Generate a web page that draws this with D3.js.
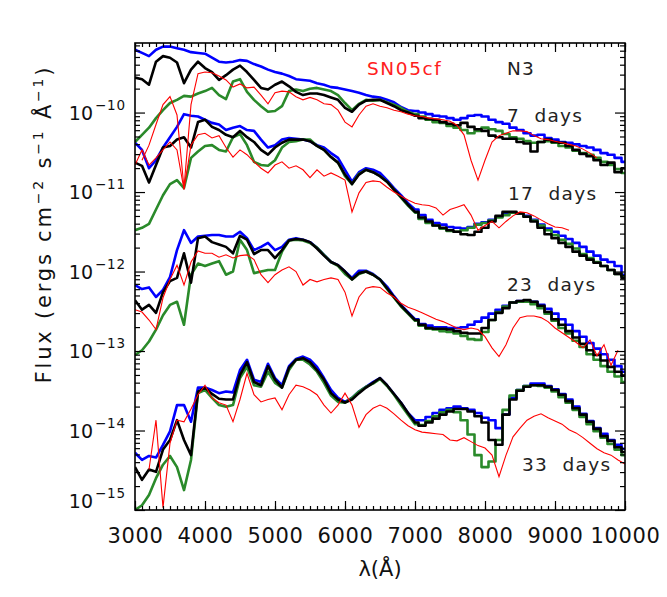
<!DOCTYPE html>
<html><head><meta charset="utf-8">
<script src="https://cdn.jsdelivr.net/npm/d3@7"></script>
<style>
body{margin:0;background:#fff}
svg{display:block;font-family:"DejaVu Sans",sans-serif}
</style></head><body>
<svg id="chart" width="667" height="597"></svg>
<script>
// wavelength grid (Angstrom)
const wave = [3000,3100,3200,3300,3400,3500,3600,3700,3800,3900,
  4000,4100,4200,4300,4400,4500,4600,4700,4800,4900,
  5000,5100,5200,5300,5400,5500,5600,5700,5800,5900,
  6000,6100,6200,6300,6400,6500,6600,6700,6800,6900,
  7000,7100,7200,7300,7400,7500,7600,7700,7800,7900,
  8000,8100,8200,8300,8400,8500,8600,8700,8800,8900,
  9000,9100,9200,9300,9400,9500,9600,9700,9800,9900,10000];

// log10 flux (ergs cm^-2 s^-1 A^-1)
// ---- 7 days ----
const blue7 = [-9.21,-9.25,-9.29,-9.21,-9.17,-9.17,-9.19,-9.21,-9.24,-9.25,
  -9.26,-9.31,-9.36,-9.37,-9.36,-9.34,-9.35,-9.39,-9.42,-9.46,
  -9.49,-9.51,-9.54,-9.58,-9.59,-9.60,-9.63,-9.65,-9.68,-9.69,
  -9.71,-9.73,-9.75,-9.78,-9.80,-9.81,-9.84,-9.87,-9.93,-9.97,
  -9.98,-10.00,-10.02,-10.04,-10.05,-10.07,-10.09,-10.07,-10.04,-10.03,
  -10.05,-10.09,-10.12,-10.14,-10.19,-10.22,-10.26,-10.29,-10.28,-10.32,
  -10.34,-10.37,-10.38,-10.40,-10.42,-10.44,-10.47,-10.51,-10.53,-10.57,-10.62];
const black7 = [-9.56,-9.58,-9.65,-9.36,-9.29,-9.31,-9.37,-9.63,-9.46,-9.36,
  -9.44,-9.49,-9.59,-9.53,-9.46,-9.41,-9.49,-9.59,-9.69,-9.71,
  -9.65,-9.61,-9.67,-9.74,-9.78,-9.76,-9.76,-9.78,-9.81,-9.84,
  -9.94,-9.99,-9.90,-9.85,-9.84,-9.84,-9.88,-9.92,-9.97,-10.00,
  -10.04,-10.07,-10.08,-10.09,-10.12,-10.14,-10.16,-10.13,-10.18,-10.21,
  -10.23,-10.29,-10.31,-10.33,-10.33,-10.37,-10.39,-10.49,-10.37,-10.34,
  -10.37,-10.38,-10.42,-10.47,-10.52,-10.55,-10.60,-10.66,-10.63,-10.75,-10.70];
const green7 = [-10.37,-10.28,-10.19,-10.07,-9.97,-9.88,-9.84,-9.79,-9.80,-9.76,
  -9.73,-9.69,-9.78,-9.83,-9.61,-9.58,-9.74,-9.84,-9.92,-9.99,
  -9.98,-9.92,-9.73,-9.71,-9.73,-9.70,-9.69,-9.71,-9.73,-9.78,
  -9.88,-9.97,-9.89,-9.84,-9.85,-9.84,-9.87,-9.90,-9.94,-9.99,
  -10.02,-10.05,-10.09,-10.12,-10.13,-10.17,-10.19,-10.22,-10.26,-10.23,
  -10.19,-10.21,-10.23,-10.27,-10.31,-10.33,-10.36,-10.38,-10.37,-10.36,
  -10.38,-10.42,-10.44,-10.48,-10.51,-10.53,-10.57,-10.62,-10.66,-10.71,-10.76];
const red7 = [null,-10.60,-10.41,-10.15,-9.90,-9.80,-10.03,-10.95,-9.90,-9.51,
  -9.49,-9.50,-9.54,-9.59,-9.68,-9.64,-9.69,-9.68,-9.78,-9.89,
  -9.75,-9.73,-9.74,-9.80,-9.84,-9.81,-9.84,-9.89,-9.90,-9.97,
  -10.12,-10.18,-10.03,-9.92,-9.89,-9.92,-9.94,-9.97,-9.99,-10.02,
  -10.04,-10.05,-10.07,-10.08,-10.09,-10.11,-10.16,-10.28,-10.60,-10.85,
  -10.60,-10.37,-10.29,-10.26,-10.23,-10.23,-10.24,-10.29,-10.33,-10.34,
  -10.36,-10.38,-10.40,-10.42,-10.46,-10.51,-10.57,null,null,null,null];
// ---- 17 days ----
const blue17 = [-10.38,-10.47,-10.70,-10.60,-10.44,-10.31,-10.18,-10.02,-10.04,-10.05,
  -10.09,-10.13,-10.15,-10.22,-10.19,-10.17,-10.22,-10.23,-10.34,-10.44,
  -10.41,-10.34,-10.32,-10.33,-10.34,-10.36,-10.41,-10.44,-10.51,-10.57,
  -10.72,-10.87,-10.75,-10.70,-10.72,-10.76,-10.85,-10.95,-11.04,-11.14,
  -11.22,-11.29,-11.35,-11.39,-11.41,-11.44,-11.45,-11.46,-11.44,-11.40,
  -11.38,-11.35,-11.31,-11.27,-11.26,-11.27,-11.30,-11.35,-11.41,-11.46,
  -11.50,-11.55,-11.59,-11.64,-11.69,-11.75,-11.80,-11.85,-11.88,-11.93,-12.04];
const black17 = [-10.63,-10.67,-10.88,-10.66,-10.44,-10.42,-10.34,-10.31,-10.44,-10.12,
  -10.09,-10.18,-10.22,-10.28,-10.31,-10.23,-10.31,-10.37,-10.47,-10.53,
  -10.44,-10.38,-10.34,-10.34,-10.34,-10.36,-10.42,-10.47,-10.56,-10.63,
  -10.78,-10.90,-10.78,-10.72,-10.75,-10.80,-10.87,-10.97,-11.06,-11.16,
  -11.25,-11.32,-11.37,-11.42,-11.45,-11.48,-11.50,-11.53,-11.54,-11.50,
  -11.45,-11.37,-11.30,-11.25,-11.25,-11.27,-11.31,-11.37,-11.45,-11.53,
  -11.58,-11.64,-11.69,-11.75,-11.80,-11.85,-11.89,-11.93,-11.98,-12.03,-12.08];
const green17 = [-11.48,-11.45,-11.40,-11.22,-11.04,-10.90,-10.85,-10.95,-10.57,-10.49,
  -10.42,-10.41,-10.47,-10.49,-10.31,-10.27,-10.41,-10.62,-10.66,-10.67,
  -10.60,-10.44,-10.37,-10.36,-10.34,-10.34,-10.42,-10.47,-10.56,-10.63,
  -10.80,-10.90,-10.77,-10.72,-10.75,-10.80,-10.87,-10.97,-11.07,-11.17,
  -11.26,-11.34,-11.39,-11.42,-11.46,-11.49,-11.50,-11.48,-11.45,-11.41,
  -11.39,-11.36,-11.32,-11.29,-11.26,-11.27,-11.31,-11.36,-11.42,-11.48,
  -11.54,-11.60,-11.65,-11.71,-11.78,-11.83,-11.88,-11.93,-11.98,-12.03,-12.06];
const red17 = [-10.66,-10.47,-10.66,-10.57,-10.47,-10.37,-10.47,-10.97,-10.41,-10.28,
  -10.26,-10.32,-10.29,-10.44,-10.56,-10.47,-10.53,-10.62,-10.70,-10.76,
  -10.66,-10.62,-10.70,-10.67,-10.72,-10.82,-10.72,-10.80,-10.76,-10.80,
  -10.85,-11.25,-11.01,-10.88,-10.86,-10.87,-10.94,-11.00,-11.05,-11.10,
  -11.14,-11.16,-11.17,-11.20,-11.29,-11.22,-11.19,-11.16,-11.29,-11.48,
  -11.42,-11.37,-11.45,-11.37,-11.30,-11.25,-11.26,-11.30,-11.35,-11.40,
  -11.44,-11.45,-11.48,null,null,null,null,null,null,null,null];
// ---- 23 days ----
const blue23 = [-12.17,-12.22,-12.20,-12.32,-12.23,-12.07,-11.73,-11.48,-11.64,-11.56,
  -11.55,-11.54,-11.54,-11.56,-11.56,-11.50,-11.58,-11.73,-11.69,-11.64,
  -11.73,-11.69,-11.60,-11.58,-11.60,-11.63,-11.70,-11.79,-11.88,-11.92,
  -12.00,-12.08,-11.99,-11.99,-12.03,-12.10,-12.19,-12.31,-12.42,-12.51,
  -12.60,-12.66,-12.68,-12.70,-12.70,-12.71,-12.71,-12.70,-12.67,-12.63,
  -12.58,-12.53,-12.48,-12.43,-12.39,-12.37,-12.37,-12.38,-12.42,-12.47,
  -12.53,-12.60,-12.67,-12.75,-12.82,-12.90,-12.97,-13.04,-13.11,-13.19,-13.26];
const black23 = [-12.36,-12.48,-12.42,-12.52,-12.26,-12.12,-12.08,-11.77,-12.14,-11.58,
  -11.56,-11.63,-11.66,-11.69,-11.77,-11.55,-11.60,-11.78,-11.73,-11.73,
  -11.83,-11.73,-11.61,-11.59,-11.60,-11.63,-11.71,-11.80,-11.88,-11.92,
  -12.00,-12.10,-12.02,-12.00,-12.04,-12.10,-12.21,-12.32,-12.43,-12.52,
  -12.61,-12.67,-12.71,-12.72,-12.72,-12.73,-12.75,-12.77,-12.78,-12.78,
  -12.71,-12.61,-12.52,-12.46,-12.39,-12.37,-12.36,-12.38,-12.43,-12.51,
  -12.60,-12.67,-12.75,-12.83,-12.91,-12.99,-13.05,-13.12,-13.20,-13.26,-13.31];
const green23 = [-13.05,-12.99,-12.88,-12.73,-12.55,-12.42,-12.38,-12.67,-12.04,-11.90,
  -11.93,-11.90,-11.87,-12.04,-12.00,-11.60,-11.73,-12.02,-12.00,-11.98,
  -11.98,-11.75,-11.61,-11.60,-11.61,-11.64,-11.70,-11.79,-11.88,-11.93,
  -12.03,-12.10,-12.03,-12.00,-12.04,-12.10,-12.22,-12.33,-12.44,-12.53,
  -12.62,-12.68,-12.72,-12.73,-12.75,-12.76,-12.78,-12.81,-12.85,-12.86,
  -12.76,-12.61,-12.51,-12.44,-12.39,-12.38,-12.38,-12.41,-12.46,-12.53,
  -12.62,-12.71,-12.78,-12.87,-12.95,-13.04,-13.11,-13.19,-13.26,-13.32,-13.39];
const red23 = [-12.48,-12.51,-12.61,-12.73,-12.33,-12.10,-11.92,-12.17,-11.88,-11.74,
  -11.77,-11.77,-11.82,-11.79,-11.83,-11.80,-11.79,-11.85,-12.04,-12.14,
  -12.04,-11.98,-11.94,-12.00,-12.17,-12.10,-12.13,-12.10,-12.08,-12.10,
  -12.26,-12.56,-12.32,-12.21,-12.19,-12.20,-12.27,-12.32,-12.40,-12.45,
  -12.48,-12.52,-12.56,-12.60,-12.63,-12.67,-12.71,-12.73,-12.71,-12.73,
  -12.82,-12.96,-13.07,-12.92,-12.71,-12.58,-12.56,-12.56,-12.58,-12.63,
  -12.71,-12.77,-12.83,-12.89,-12.96,-12.86,-13.06,-12.92,-13.18,-12.99,null];
// ---- 33 days ----
const blue33 = [-14.28,-14.37,-14.32,-14.34,-14.18,-14.01,-13.68,-13.68,-13.89,-13.46,
  -13.46,-13.49,-13.53,-13.51,-13.52,-13.24,-13.11,-13.36,-13.39,-13.16,
  -13.34,-13.43,-13.19,-13.10,-13.07,-13.11,-13.20,-13.34,-13.49,-13.59,
  -13.64,-13.59,-13.51,-13.45,-13.39,-13.34,-13.43,-13.54,-13.65,-13.78,
  -13.87,-13.87,-13.83,-13.78,-13.74,-13.72,-13.70,-13.72,-13.74,-13.78,
  -13.84,-13.87,-13.97,-13.80,-13.59,-13.49,-13.44,-13.41,-13.41,-13.44,
  -13.48,-13.54,-13.61,-13.70,-13.79,-13.88,-13.97,-14.04,-14.12,-14.18,-14.23];
const black33 = [-14.46,-14.62,-14.49,-14.52,-14.24,-14.12,-13.87,-14.12,-14.31,-13.51,
  -13.46,-13.54,-13.60,-13.61,-13.61,-13.30,-13.14,-13.39,-13.43,-13.19,
  -13.36,-13.46,-13.21,-13.11,-13.09,-13.14,-13.24,-13.36,-13.53,-13.61,
  -13.65,-13.61,-13.53,-13.46,-13.40,-13.34,-13.43,-13.54,-13.65,-13.78,
  -13.90,-13.94,-13.90,-13.85,-13.80,-13.76,-13.73,-13.73,-13.76,-13.82,
  -13.90,-14.12,-14.18,-13.80,-13.61,-13.50,-13.45,-13.43,-13.43,-13.45,
  -13.49,-13.55,-13.63,-13.72,-13.80,-13.89,-13.98,-14.07,-14.13,-14.21,-14.27];
const green33 = [-15.00,-14.94,-14.81,-14.60,-14.43,-14.32,-14.46,-14.75,-14.37,-13.53,
  -13.49,-13.59,-13.68,-13.70,-13.68,-13.34,-13.20,-13.43,-13.45,-13.26,
  -13.40,-13.46,-13.24,-13.11,-13.11,-13.17,-13.26,-13.40,-13.56,-13.64,
  -13.65,-13.59,-13.51,-13.45,-13.41,-13.35,-13.44,-13.55,-13.68,-13.80,
  -13.92,-13.93,-13.88,-13.82,-13.77,-13.74,-13.77,-13.87,-14.05,-14.31,
  -14.46,-14.39,-14.12,-13.74,-13.56,-13.49,-13.44,-13.43,-13.44,-13.46,
  -13.51,-13.58,-13.65,-13.74,-13.83,-13.92,-14.01,-14.09,-14.17,-14.24,-14.31];
const red33 = [null,null,-14.49,-13.87,-14.97,-14.16,-13.87,-13.89,-13.73,-13.55,
  -13.43,-13.59,-13.65,-13.68,-13.89,-13.61,-13.28,-13.55,-13.64,-13.61,
  -13.59,-13.74,-13.55,-13.43,-13.45,-13.49,-13.55,-13.68,-13.78,-13.68,
  -13.53,-13.68,-13.96,-13.80,-13.72,-13.68,-13.72,-13.79,-13.87,-13.94,
  -13.99,-14.02,-14.03,-14.04,-14.05,-14.12,-14.13,-14.09,-14.14,-14.19,
  -14.22,-14.31,-14.58,-14.31,-14.08,-13.97,-13.87,-13.82,-13.79,-13.84,
  -13.88,-13.92,-13.99,-14.03,-14.09,-14.16,-14.23,-14.28,-14.31,-14.37,-14.42];

const epochLabels = ["7  days","17  days","23  days","33  days"];
const xTickLabels = [3000,4000,5000,6000,7000,8000,9000,10000];
const yDecades = [-15,-14,-13,-12,-11,-10];

const m = {left:135, right:625, top:43, bottom:510};
const svg = d3.select("#chart");

const x = d3.scaleLinear().domain([3000,10000]).range([m.left, m.right]);
const y = d3.scaleLog().domain([1e-15, 7.5e-10]).range([m.bottom, m.top]);

svg.append("defs").append("clipPath").attr("id","clip")
  .append("rect").attr("x",m.left).attr("y",m.top)
  .attr("width",m.right-m.left).attr("height",m.bottom-m.top);

const toPts = arr => wave.map((w,i)=>[w, arr[i]]);
const lineStep = d3.line().defined(d=>d[1]!=null)
  .x(d=>x(d[0])).y(d=>y(Math.pow(10,d[1]))).curve(d3.curveStep);
const lineSmooth = d3.line().defined(d=>d[1]!=null)
  .x(d=>x(d[0])).y(d=>y(Math.pow(10,d[1])));

const g = svg.append("g").attr("clip-path","url(#clip)");
const models = [
  {data:[blue7,blue17,blue23,blue33], color:"#0000ff"},
  {data:[green7,green17,green23,green33], color:"#2a8a2a"},
  {data:[black7,black17,black23,black33], color:"#000000"}
];
models.forEach(s=>{
  s.data.forEach(arr=>{
    const pts = toPts(arr);
    // blue half: dense bins drawn as a polyline; red half: coarse bins as steps
    const blueHalf = pts.filter(p=>p[0]<=7000);
    const redHalf = pts.filter(p=>p[0]>=7000);
    const path = lineSmooth(blueHalf) + lineStep(redHalf).replace(/^M/,"L");
    g.append("path").attr("d", path)
      .attr("fill","none").attr("stroke",s.color).attr("stroke-width",2.6)
      .attr("stroke-linejoin","round");
  });
});
[red7,red17,red23,red33].forEach(arr=>{
  g.append("path").attr("d", lineSmooth(toPts(arr)))
    .attr("fill","none").attr("stroke","#ff0000").attr("stroke-width",1.1);
});

// axes
const minorX = d3.range(3000,10001,100);
const ax = svg.append("g");
ax.append("g").attr("transform",`translate(0,${m.bottom})`)
  .call(d3.axisBottom(x).tickValues(minorX).tickSize(-4).tickFormat(""));
ax.append("g").attr("transform",`translate(0,${m.bottom})`)
  .call(d3.axisBottom(x).tickValues(xTickLabels).tickSize(-9).tickFormat(d3.format("d")))
  .call(a=>a.selectAll("text").attr("y",33).attr("dy",null)
      .attr("font-size",21).attr("font-family","DejaVu Sans").attr("fill","#111")
      .attr("letter-spacing",0.6));
ax.append("g").attr("transform",`translate(0,${m.top})`)
  .call(d3.axisTop(x).tickValues(minorX).tickSize(-4).tickFormat(""));
ax.append("g").attr("transform",`translate(0,${m.top})`)
  .call(d3.axisTop(x).tickValues(xTickLabels).tickSize(-9).tickFormat(""));

const majorY = yDecades.map(e=>Math.pow(10,e));
const minorY = [];
for (let e=-16;e<=-9;e++) for (let k=2;k<=9;k++){
  const v = k*Math.pow(10,e);
  if (v>=1e-15 && v<=7.5e-10) minorY.push(v);
}
[[d3.axisLeft, m.left],[d3.axisRight, m.right]].forEach(([A,pos])=>{
  ax.append("g").attr("transform",`translate(${pos},0)`)
    .call(A(y).tickValues(minorY).tickSize(-5).tickFormat(""));
  ax.append("g").attr("transform",`translate(${pos},0)`)
    .call(A(y).tickValues(majorY).tickSize(-10).tickFormat(""));
});
ax.selectAll(".domain").remove();
ax.selectAll(".tick line").attr("stroke","#000").attr("stroke-width",1.2);

svg.append("rect").attr("x",m.left).attr("y",m.top)
  .attr("width",m.right-m.left).attr("height",m.bottom-m.top)
  .attr("fill","none").attr("stroke","#000").attr("stroke-width",1.6);

// y tick labels 10^n
yDecades.forEach(e=>{
  const ty = y(Math.pow(10,e));
  const base = Math.min(ty+7, m.bottom-2);
  svg.append("text").attr("x",93).attr("y",base)
    .attr("text-anchor","end").attr("font-size",19).attr("fill","#111").text("10");
  svg.append("text").attr("x",95).attr("y",base-10)
    .attr("font-size",13.5).attr("fill","#111").attr("letter-spacing",0.8)
    .text("\u2212"+Math.abs(e));
});

// axis titles
svg.append("text").attr("x",(m.left+m.right)/2).attr("y",576)
  .attr("text-anchor","middle").attr("font-size",21).attr("fill","#111")
  .text("\u03bb(\u00c5)");

const yt = svg.append("text").attr("transform","translate(51,224) rotate(-90)")
  .attr("text-anchor","middle").attr("font-size",21).attr("fill","#111")
  .attr("letter-spacing",2.8).style("white-space","pre");
const parts = [["Flux (ergs cm",0],["\u22122",1],[" s",0],["\u22121",1],[" \u00c5",0],["\u22121",1],[")",0]];
let sup = false;
parts.forEach(([txt,s])=>{
  const ts = yt.append("tspan").text(txt);
  if (s && !sup){ ts.attr("dy",-8).attr("font-size",14); sup=true; }
  else if (!s && sup){ ts.attr("dy",8); sup=false; }
  else if (s) ts.attr("font-size",14);
});

// annotations
svg.append("text").attr("x",367).attr("y",75).attr("font-size",18.5)
  .attr("fill","#ff2020").attr("letter-spacing",1.6).text("SN05cf");
svg.append("text").attr("x",507).attr("y",75).attr("font-size",18.5)
  .attr("fill","#222").attr("letter-spacing",1.2).text("N3");
const labelPos = [[507,122],[508,200],[507,291],[522,471]];
epochLabels.forEach((t,i)=>{
  svg.append("text").attr("x",labelPos[i][0]).attr("y",labelPos[i][1])
    .attr("font-size",18.5).attr("fill","#222").attr("letter-spacing",1.3)
    .style("white-space","pre").text(t);
});
</script>
</body></html>
